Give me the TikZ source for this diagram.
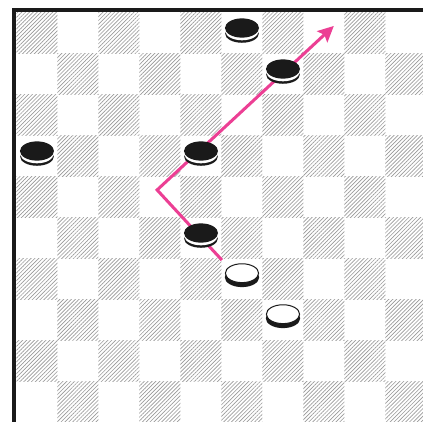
\documentclass[tikz,border=0pt]{standalone}
\usepackage{tikz}
\usetikzlibrary{patterns.meta,arrows.meta}
\definecolor{Hatch}{HTML}{9A9A9A}
\definecolor{Ink}{HTML}{1A1A1A}
\definecolor{Move}{HTML}{EC3F94}

\tikzset{
  darksq/.style={pattern={Lines[angle=45,distance=1.9pt,line width=0.45pt]},pattern color=Hatch},
  frame/.style={draw=Ink,line width=2.4pt},
  jump/.style={draw=Move,line width=2.1pt,-{Stealth[length=11pt,width=10.5pt,inset=2pt]}},
  blackman/.pic={
    \fill[Ink] (0,-0.14) ellipse (0.41 and 0.22);
    \fill[white] (0,-0.075) ellipse (0.405 and 0.225);
    \fill[Ink] (0,0) ellipse (0.415 and 0.235);
  },
  whiteman/.pic={
    \fill[Ink] (0,-0.1) ellipse (0.42 and 0.24);
    \filldraw[fill=white,draw=Ink,line width=0.7pt] (0,0) ellipse (0.405 and 0.23);
  }
}

\begin{document}
\begin{tikzpicture}
  \useasboundingbox (-0.402,-9.976) rectangle (9.915,0.293);
  \clip (-0.402,-9.976) rectangle (9.915,0.293);
  \fill[white] (-0.402,-9.976) rectangle (9.915,0.293);

  % board
  \foreach \c in {0,...,9}
    \foreach \r in {0,...,9}{
      \pgfmathtruncatemacro{\odd}{mod(\c+\r,2)}
      \ifnum\odd=0
        \fill[darksq] (\c,-\r) rectangle ++(1,-1);
      \fi
    }
  \draw[frame] (-0.06,-10.5) -- (-0.06,0.05) -- (10.5,0.05);

  % men (top of each man sits a little above the centre of its square)
  \coordinate (b1) at (5.5,-0.39);
  \coordinate (b2) at (6.5,-1.39);
  \coordinate (b3) at (0.5,-3.39);
  \coordinate (b4) at (4.5,-3.39);
  \coordinate (b5) at (4.5,-5.39);
  \coordinate (w1) at (5.5,-6.37);
  \coordinate (w2) at (6.5,-7.37);

  % the jump
  \coordinate (start) at (5.01,-6.05);
  \coordinate (turn) at (3.43,-4.34);
  \coordinate (tip) at (7.74,-0.34);
  \draw[jump,line join=miter] (start) -- (turn) -- (tip);

  \foreach \m in {b1,b2,b3,b4,b5}
    \pic at (\m) {blackman};
  \foreach \m in {w1,w2}
    \pic at (\m) {whiteman};
\end{tikzpicture}
\end{document}
